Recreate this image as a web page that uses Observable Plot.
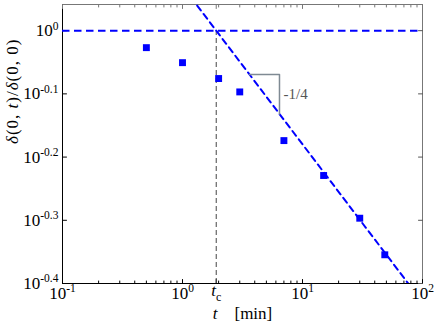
<!DOCTYPE html>
<html><head><meta charset="utf-8">
<script src="https://cdn.jsdelivr.net/npm/d3@7"></script>
<script src="https://cdn.jsdelivr.net/npm/@observablehq/plot@0.6"></script>
<style>html,body{margin:0;padding:0;background:#fff} svg text{font-family:"Liberation Serif","Times New Roman",serif !important}</style>
</head><body><div id="chart"></div>
<script>
// ---- data ----
const tMin = [0.5, 1, 2, 3, 7, 15, 30, 48.5];
const delta = [0.94, 0.89, 0.84, 0.80, 0.67, 0.59, 0.505, 0.442];
const tc = 1.91;
const slopeExp = -0.25;
const fitT = [0.5, 100];
const triT = [3.62, 6.43];
const slopeLabel = "-1/4";
const xTicks = [0.1, 1, 10, 100];
const xTickLabels = ["10^-1", "10^0", "10^1", "10^2"];
const tcLabel = "{t}_c";
const yTicks = [1, 10 ** -0.1, 10 ** -0.2, 10 ** -0.3, 10 ** -0.4];
const yTickLabels = ["10^0", "10^-0.1", "10^-0.2", "10^-0.3", "10^-0.4"];
const xLabel = "{t}\u2003[min]";
const yLabel = "{δ}(0, {t})/{δ}(0, 0)";
const xDomain = [0.1, 100];
const yDomain = [10 ** -0.4, 1.1];

// ---- derived ----
const pts = tMin.map((t, i) => ({t, d: delta[i]}));
const law = t => (t / tc) ** slopeExp;
const fit = fitT.map(t => ({t, d: law(t)}));
const tri = [
  {t: triT[0], d: law(triT[0])},
  {t: triT[1], d: law(triT[0])},
  {t: triT[1], d: law(triT[1])}
];
const xMinor = [];
[0.1, 1, 10].forEach(k => [2,3,4,5,6,7,8,9].forEach(m => xMinor.push(k * m)));
const xMajor = [...xTicks, tc];
const ymin = yDomain[0], ymax = yDomain[1], xmin = xDomain[0], xmax = xDomain[1];

const tickShape = {draw(ctx, l) { ctx.moveTo(0, 0); ctx.lineTo(0, -l); }};
const vx = (vals, yv, len, rotate, stroke) => Plot.vector(vals, {x: d => d, y: () => yv, length: len, rotate, anchor: "start", shape: tickShape, stroke, strokeWidth: 1});
const vy = (vals, xv, len, rotate, stroke) => Plot.vector(vals, {y: d => d, x: () => xv, length: len, rotate, anchor: "start", shape: tickShape, stroke, strokeWidth: 1});

const FONT = "Liberation Serif";
const chart = Plot.plot({
  width: 436, height: 330,
  marginTop: 4, marginRight: 14, marginBottom: 47, marginLeft: 62,
  style: {fontFamily: FONT, fontSize: "16px", background: "#fff", color: "#000"},
  x: {type: "log", domain: xDomain, axis: null},
  y: {type: "log", domain: yDomain, axis: null},
  marks: [
    Plot.frame({stroke: "#777"}),
    Plot.ruleX([xmin], {stroke: "#000"}),
    Plot.ruleY([ymin], {stroke: "#000"}),
    // ticks
    vx(xMajor, ymin, 4, 0, "#000"),
    vx(xMinor, ymin, 2.5, 0, "#000"),
    vx(xMajor, ymax, 4, 180, "#777"),
    vx(xMinor, ymax, 2.5, 180, "#777"),
    vy(yTicks, xmin, 4, 90, "#000"),
    vy(yTicks, xmax, 4, -90, "#555"),
    // reference lines
    Plot.ruleX([tc], {y1: ymin, y2: 1, stroke: "#444", strokeWidth: 1, strokeDasharray: "5,3"}),
    Plot.ruleY([1], {stroke: "#0000ff", strokeWidth: 2, strokeDasharray: "7.5,4.5"}),
    Plot.line(fit, {x: "t", y: "d", stroke: "#0000ff", strokeWidth: 2, strokeDasharray: "6,4.5", clip: true}),
    Plot.line(tri, {x: "t", y: "d", stroke: "#7f8a93", strokeWidth: 1.5}),
    Plot.text([slopeLabel], {x: triT[1], y: Math.sqrt(law(triT[0]) * law(triT[1])), text: d => d, textAnchor: "start", dx: 4, fontSize: 15, fill: "#555", fontFamily: FONT}),
    // data
    Plot.dot(pts, {x: "t", y: "d", symbol: "square", r: 3.9, fill: "#0000ff", stroke: null}),
    // tick labels
    Plot.text(xTicks, {x: d => d, frameAnchor: "bottom", dy: 15, text: (d, i) => xTickLabels[i], fontSize: 17, textAnchor: "middle", fontFamily: FONT}),
    Plot.text([tc], {x: d => d, frameAnchor: "bottom", dy: 12, text: () => tcLabel, fontSize: 17, textAnchor: "middle", fontFamily: FONT}),
    Plot.text(yTicks, {y: d => d, frameAnchor: "left", dx: -4, text: (d, i) => yTickLabels[i], fontSize: 17, textAnchor: "end", fontFamily: FONT}),
    // axis labels
    Plot.text([xLabel], {frameAnchor: "bottom", dy: 35, text: d => d, fontSize: 17, fontFamily: FONT}),
    Plot.text([yLabel], {frameAnchor: "left", dx: -50, rotate: -90, text: d => d, fontSize: 17, fontFamily: FONT})
  ]
});

// rich text: {..} italic, ^.. superscript, _.. subscript
const NS = "http://www.w3.org/2000/svg";
chart.querySelectorAll("text").forEach(t => {
  const s = t.textContent;
  if (!/[\^_{]/.test(s)) return;
  t.textContent = "";
  let i = 0;
  const add = (txt, attrs) => {
    const ts = document.createElementNS(NS, "tspan");
    ts.textContent = txt;
    for (const k in attrs) ts.setAttribute(k, attrs[k]);
    t.appendChild(ts);
  };
  let buf = "";
  while (i < s.length) {
    const c = s[i];
    if (c === "{") {
      if (buf) { add(buf, {}); buf = ""; }
      const j = s.indexOf("}", i);
      add(s.slice(i + 1, j), {"font-style": "italic"});
      i = j + 1;
    } else if (c === "^") {
      if (buf) { add(buf, {}); buf = ""; }
      add(s.slice(i + 1), {dy: "-6.5", "font-size": "11.5"});
      i = s.length;
    } else if (c === "_") {
      if (buf) { add(buf, {}); buf = ""; }
      add(s.slice(i + 1), {dy: "5", "font-size": "12"});
      i = s.length;
    } else { buf += c; i++; }
  }
  if (buf) add(buf, {});
});
chart.querySelectorAll("text").forEach(t => {
  if (t.textContent === "δ(0, t)/δ(0, 0)") t.setAttribute("letter-spacing", "1");
});
document.getElementById("chart").appendChild(chart);
</script>
</body></html>
